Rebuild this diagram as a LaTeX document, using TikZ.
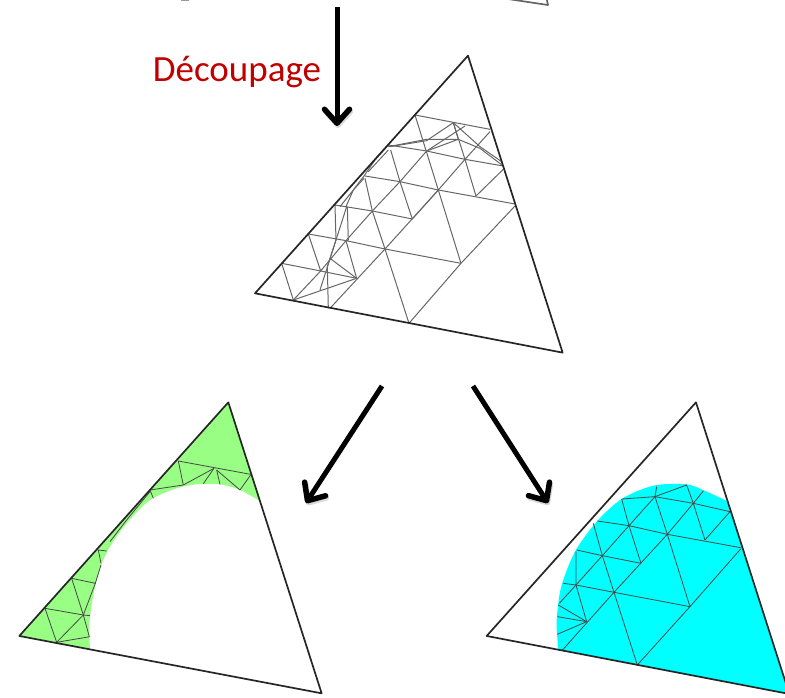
\documentclass[tikz,border=0pt]{standalone}
\usepackage{fontspec}
\setmainfont{Carlito}
\usetikzlibrary{arrows.meta}
\definecolor{rouge}{HTML}{C00000}
\definecolor{vert}{HTML}{98FF84}
\definecolor{bleu}{HTML}{00FFFF}
\begin{document}
\begin{tikzpicture}[
    x=1pt, y=-1pt,
    outer/.style={draw=black!85, line width=1.7pt, line join=round},
    mesh/.style={draw=black!60, line width=1pt},
    cutmesh/.style={draw=black!72, line width=0.8pt},
    arr/.style={-{Straight Barb[length=14pt,width=25pt,line width=5.5pt,round]}, line width=5pt, preaction={draw=black!15, transform canvas={shift={(1pt,-2pt)}}}},
    label/.style={text=rouge, font=\fontsize{37}{37}\selectfont, inner sep=0pt}
]
\useasboundingbox (0,0) rectangle (785,697);
\clip (0,0) rectangle (785,697);

% bottom of the previous triangle
\draw[outer, draw=black!60] (508,-1) -- (548,5) -- (546,-4);
\draw[draw=black!40, line width=1pt] (181,0) -- (189,0);

% arrows
\coordinate (cut1) at (337,7);
\coordinate (cut2) at (337,126);
\coordinate (in1) at (382,386);
\coordinate (in2) at (306,503);
\coordinate (out1) at (473,386);
\coordinate (out2) at (548,503);
\draw[arr] (cut1) -- (cut2);
\draw[arr] (in1) -- (in2);
\draw[arr] (out1) -- (out2);
\node[label] (decoupage) at (237,72) {Découpage};

% full mesh
\begin{scope}[shift={(240,50)}, scale=0.3333]
\draw[mesh] (525,195) -- (750,238);
\draw[mesh] (525,195) -- (595,420) -- (663,640);
\draw[mesh] (445,285) -- (560,303) -- (675,328) -- (790,348);
\draw[mesh] (452,300) -- (480,395) -- (517,507);
\draw[mesh] (375,378) -- (480,395) -- (595,420) -- (825,462);
\draw[mesh] (640,218) -- (675,328) -- (708,438);
\draw[mesh] (790,358) -- (708,438);
\draw[mesh] (750,245) -- (675,328) -- (595,420) -- (517,507);
\draw[mesh] (825,468) -- (663,640) -- (507,820);
\draw[mesh] (595,420) -- (435,597) -- (270,775);
\draw[mesh] (675,228) -- (560,303) -- (480,395) -- (397,483) -- (318,572) -- (242,663) -- (160,750);
\draw[mesh] (663,640) -- (435,597) -- (318,572) -- (205,552);
\draw[mesh] (517,507) -- (397,483) -- (285,465);
\draw[mesh] (375,385) -- (397,483) -- (435,597) -- (507,820);
\draw[mesh] (318,572) -- (350,685);
\draw[mesh] (205,552) -- (242,663);
\draw[mesh] (125,640) -- (242,663) -- (350,685);
\draw[mesh] (125,640) -- (160,750);
\draw[mesh] (160,750) -- (350,685);
\draw[mesh] (270,625) -- (350,685);
\draw[mesh] (285,465) -- (288,570) -- (262,650) -- (265,775);
\draw[mesh] (322,470) -- (325,570) -- (318,572);
\draw[mesh] (320,470) -- (288,570) -- (240,720);
\draw[mesh] (640,218) -- (560,272) -- (450,290);
\draw[mesh] (640,218) -- (655,268) -- (560,303);
\draw[mesh] (640,218) -- (720,290) -- (785,335);
\draw[mesh] (445,290) -- (560,268) -- (655,268) -- (720,295) -- (790,348);
\draw[mesh] (445,285) -- (405,330) -- (372,378) -- (340,420) -- (300,470);
\draw[mesh] (372,385) -- (340,420) -- (318,470);
\draw[mesh] (445,300) -- (385,365);
\draw[outer] (684,17) -- (968,908) -- (45,730) -- cycle;
\end{scope}

% outside part
\begin{scope}[shift={(10,395)}, scale=0.3333]
\fill[vert] (655,22) -- (750,318) -- plot[smooth] coordinates {(750,318) (690,285) (630,268) (560,268) (500,280) (420,315) (350,385) (300,455) (270,520) (248,610) (238,690) (240,762)} -- (28,723) -- cycle;
\draw[cutmesh] (505,198) -- (722,238);
\draw[cutmesh] (505,198) -- (520,270);
\draw[cutmesh] (612,220) -- (520,270);
\draw[cutmesh] (612,220) -- (580,266);
\draw[cutmesh] (620,225) -- (630,268);
\draw[cutmesh] (620,225) -- (690,285);
\draw[cutmesh] (722,240) -- (690,285);
\draw[cutmesh] (420,285) -- (430,310);
\draw[cutmesh] (420,285) -- (520,270);
\draw[cutmesh] (420,290) -- (350,375) -- (300,440);
\draw[cutmesh] (265,465) -- (290,468);
\draw[cutmesh] (265,465) -- (273,505);
\draw[cutmesh] (185,550) -- (256,565);
\draw[cutmesh] (185,550) -- (220,660) -- (238,725);
\draw[cutmesh] (105,640) -- (220,660) -- (240,662);
\draw[cutmesh] (105,640) -- (140,742);
\draw[cutmesh] (140,742) -- (240,725);
\draw[cutmesh] (140,742) -- (220,660) -- (256,565) -- (273,510);
\draw[outer] (655,22) -- (935,895) -- (28,723) -- cycle;
\end{scope}

% inside part
\begin{scope}[shift={(480,395)}, scale=0.3333]
\fill[bleu] (745,320) -- (928,897) -- (235,765) -- plot[smooth] coordinates {(235,765) (230,700) (232,650) (245,570) (285,470) (350,380) (425,312) (520,272) (620,268) (680,290) (745,320)} -- cycle;
\draw[cutmesh] (425,312) -- (525,305) -- (620,270) -- (640,325) -- (675,435);
\draw[cutmesh] (525,305) -- (530,275);
\draw[cutmesh] (525,305) -- (640,325) -- (750,350) -- (675,435);
\draw[cutmesh] (525,305) -- (562,418) -- (630,635);
\draw[cutmesh] (425,312) -- (447,392) -- (483,505);
\draw[cutmesh] (352,378) -- (447,392) -- (562,418) -- (782,458);
\draw[cutmesh] (340,385) -- (367,482) -- (402,592) -- (472,810);
\draw[cutmesh] (290,465) -- (367,482) -- (483,505);
\draw[cutmesh] (288,470) -- (288,570) -- (320,680);
\draw[cutmesh] (250,565) -- (288,570) -- (402,592) -- (630,635);
\draw[cutmesh] (670,288) -- (640,325) -- (562,418) -- (402,592) -- (245,768);
\draw[cutmesh] (525,305) -- (447,392) -- (367,482) -- (288,570) -- (238,625);
\draw[cutmesh] (782,462) -- (630,635) -- (472,810);
\draw[cutmesh] (235,630) -- (320,680);
\draw[cutmesh] (232,665) -- (320,680);
\draw[cutmesh] (232,718) -- (320,680);
\draw[outer] (648,22) -- (928,897) -- (20,723) -- cycle;
\end{scope}
\end{tikzpicture}
\end{document}
